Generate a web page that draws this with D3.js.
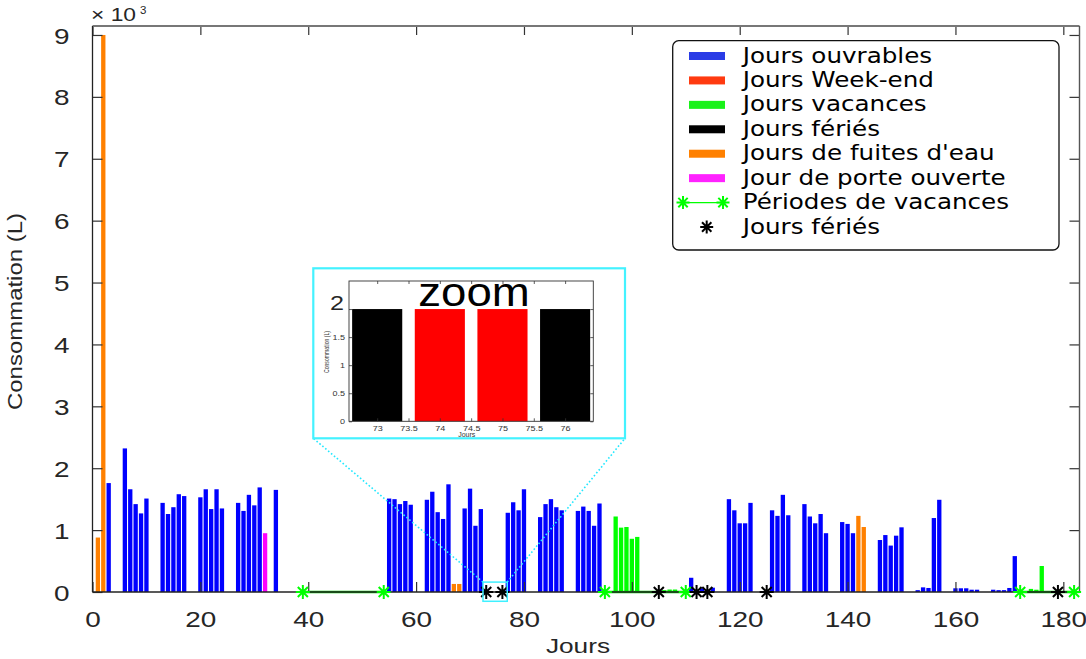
<!DOCTYPE html>
<html><head><meta charset="utf-8">
<script src="https://cdn.jsdelivr.net/npm/d3@7"></script>
<style>body{margin:0;background:#fff}svg{display:block}</style>
</head><body>
<svg id="chart" width="1086" height="659"></svg>
<script>
// ---------------- DATA ----------------
const xTicks = [0, 20, 40, 60, 80, 100, 120, 140, 160, 180];
const yTicks = [0, 1, 2, 3, 4, 5, 6, 7, 8, 9]; // x 10^3 L

const ouvrables = [
  [3,1760],[6,2320],[7,1660],[8,1420],[9,1270],[10,1510],
  [13,1440],[14,1260],[15,1370],[16,1580],[17,1550],
  [20,1530],[21,1660],[22,1340],[23,1660],[24,1350],
  [27,1440],[28,1310],[29,1570],[30,1400],[31,1690],[34,1650],
  [55,1510],[56,1500],[57,1420],[58,1470],[59,1410],
  [62,1490],[63,1620],[64,1290],[65,1180],[66,1740],
  [69,1350],[70,1670],[71,1070],[72,1340],
  [77,1280],[78,1450],[79,1320],[80,1660],
  [83,1210],[84,1420],[85,1500],[86,1370],[87,1320],
  [90,1310],[91,1380],[92,1310],[93,1070],[94,1430],
  [111,230],[113,60],[115,70],
  [118,1500],[119,1320],[120,1110],[121,1110],[122,1440],
  [126,1320],[127,1230],[128,1570],[129,1240],
  [132,1420],[133,1220],[134,1110],[135,1260],[136,950],
  [139,1130],[140,1100],[141,950],
  [146,840],[147,920],[148,750],[149,910],[150,1045],
  [153,30],[154,75],[155,65],[156,1195],[157,1490],
  [160,60],[161,60],[162,60],[163,37],[164,37],
  [167,37],[168,30],[169,30],[170,65],[171,580]
];
const weekEnd = [[74,2],[75,2]];
const vacances = [[97,1220],[98,1040],[99,1050],[100,860],[101,890],
  [106,30],[107,40],[108,40],[174,50],[175,37],[176,420]];
const feries = [[73,2],[76,2]];
const fuites = [[1,880],[2,9000],[67,130],[68,130],[142,1230],[143,1050]];
const porteOuverte = [[32,950]];

const periodesVacances = [[39,54],[95,110],[172,182]];
const joursFeries = [73,76,105,112,114,125,179];

const zoomDays = [73, 76];            // range shown in the inset
const insetXTicks = [73, 73.5, 74, 74.5, 75, 75.5, 76];
const insetYTicks = [0, 0.5, 1, 1.5, 2];

const legendLabels = ["Jours ouvrables","Jours Week-end","Jours vacances","Jours fériés",
  "Jours de fuites d'eau","Jour de porte ouverte","Périodes de vacances","Jours fériés"];

// ---------------- SETUP ----------------
const series = [
  {data: ouvrables, color: "#0000ff", legend: "#2a3ce6"},
  {data: weekEnd, color: "#ff0000", legend: "#ff3a10"},
  {data: vacances, color: "#00ff00", legend: "#19f219"},
  {data: feries, color: "#000000", legend: "#000000"},
  {data: fuites, color: "#ff8000", legend: "#ff8000"},
  {data: porteOuverte, color: "#ff00ff", legend: "#ff22ff"}
];
const TICKFONT = "'Liberation Sans', Arial, sans-serif";
const svg = d3.select("#chart");

const x = d3.scaleLinear().domain([0, 183]).range([92.5, 1079.5]);
const y = d3.scaleLinear().domain([0, 9145]).range([592, 26]);
const bw = 0.8;

function stretch(sel, k) {
  sel.each(function () {
    const L = this.getComputedTextLength();
    if (L > 0) d3.select(this).attr("textLength", L * k).attr("lengthAdjust", "spacingAndGlyphs");
  });
}
function star(r) {
  const d = r * 0.72;
  return `M${-r},0L${r},0M0,${-r}L0,${r}M${-d},${-d}L${d},${d}M${-d},${d}L${d},${-d}`;
}

// ---------------- BARS ----------------
const gBars = svg.append("g");
series.forEach(s => {
  gBars.selectAll(null).data(s.data).join("rect")
    .attr("x", d => x(d[0] - bw / 2))
    .attr("width", x(bw) - x(0))
    .attr("y", d => y(d[1]))
    .attr("height", d => y(0) - y(d[1]))
    .attr("fill", s.color);
});

// vacation period lines (under axis)
svg.append("g").selectAll("line").data(periodesVacances).join("line")
  .attr("x1", d => x(d[0])).attr("x2", d => x(d[1]))
  .attr("y1", y(0)).attr("y2", y(0))
  .attr("stroke", "#00cc00").attr("stroke-width", 2.6);

// ---------------- AXES ----------------
const gx = svg.append("g").attr("transform", `translate(0,${y(0)})`)
  .call(d3.axisBottom(x).tickValues(xTicks).tickSizeInner(-10).tickSizeOuter(0).tickPadding(19));
const gxt = svg.append("g").attr("transform", `translate(0,${y.range()[1]})`)
  .call(d3.axisTop(x).tickValues(xTicks).tickSizeInner(-9).tickSizeOuter(0).tickFormat(""));
const gy = svg.append("g").attr("transform", `translate(${x.range()[0]},0)`)
  .call(d3.axisLeft(y).tickValues(yTicks.map(t => t * 1000)).tickFormat(d => d / 1000)
    .tickSizeInner(-10).tickSizeOuter(0).tickPadding(23));
const gyr = svg.append("g").attr("transform", `translate(${x.range()[1]},0)`)
  .call(d3.axisRight(y).tickValues(yTicks.map(t => t * 1000)).tickSizeInner(-10).tickSizeOuter(0).tickFormat(""));
[gx, gxt, gy, gyr].forEach(g => {
  g.select(".domain").remove();
  g.selectAll(".tick line").attr("stroke", "#333").attr("stroke-width", 1.2);
});
gx.selectAll("text").attr("font-family", TICKFONT).attr("font-size", 22.5).attr("fill", "#262626").attr("dy", "0");
gx.selectAll("text").attr("y", 35);
gy.selectAll("text").attr("font-family", TICKFONT).attr("font-size", 22.5).attr("fill", "#262626").attr("dy", "0.36em");

// box
const [X0, X1] = x.range(), Y0 = y(0), Y1 = y.range()[1];
svg.append("line").attr("x1", X0).attr("x2", X1).attr("y1", Y1).attr("y2", Y1).attr("stroke", "#777").attr("stroke-width", 1.8);
svg.append("line").attr("x1", X1).attr("x2", X1).attr("y1", Y1).attr("y2", Y0).attr("stroke", "#555").attr("stroke-width", 1.4);
svg.append("line").attr("x1", X0).attr("x2", X1).attr("y1", Y0).attr("y2", Y0).attr("stroke", "#222").attr("stroke-width", 1.3);
svg.append("line").attr("x1", X0).attr("x2", X0).attr("y1", Y1).attr("y2", Y0).attr("stroke", "#222").attr("stroke-width", 1.3);

// markers
const vacEnds = periodesVacances.flat();
svg.append("g").selectAll("path").data(vacEnds).join("path")
  .attr("transform", d => `translate(${x(d)},${y(0)})`)
  .attr("d", star(7)).attr("stroke", "#00ff00").attr("stroke-width", 2).attr("fill", "none");
svg.append("g").selectAll("path").data(joursFeries).join("path")
  .attr("transform", d => `translate(${x(d)},${y(0)})`)
  .attr("d", star(7)).attr("stroke", "#000").attr("stroke-width", 2).attr("fill", "none");

// axis labels
const xl = svg.append("text").attr("x", 578).attr("y", 653).attr("text-anchor", "middle")
  .attr("font-family", TICKFONT).attr("font-size", 21).attr("fill", "#262626").text("Jours");
const yl = svg.append("text").attr("transform", "translate(22,311.5) rotate(-90)").attr("text-anchor", "middle")
  .attr("font-family", TICKFONT).attr("font-size", 20).attr("fill", "#262626").text("Consommation (L)");
yl.attr("textLength", 197).attr("lengthAdjust", "spacingAndGlyphs");
const mult = svg.append("text").attr("x", 91).attr("y", 21).attr("font-family", TICKFONT)
  .attr("font-size", 19).attr("fill", "#262626").text("× 10");
const sup = svg.append("text").attr("x", 140).attr("y", 13.5).attr("font-family", TICKFONT)
  .attr("font-size", 11.5).attr("fill", "#262626").text("3");

// ---------------- ZOOM BOX + CONNECTORS ----------------
const zx0 = x(zoomDays[0] - 0.6), zx1 = x(zoomDays[1] + 0.9), zy0 = y(160), zy1 = y(-150);
const inset = {x0: 313.3, y0: 268.3, x1: 625, y1: 438.3};
svg.append("rect").attr("x", zx0).attr("y", zy0).attr("width", zx1 - zx0).attr("height", zy1 - zy0)
  .attr("fill", "none").attr("stroke", "#3ff0ff").attr("stroke-width", 1.5);
svg.append("line").attr("x1", zx0).attr("y1", zy0).attr("x2", inset.x0).attr("y2", inset.y1)
  .attr("stroke", "#22e8ff").attr("stroke-width", 1.6).attr("stroke-dasharray", "1.6,2.2");
svg.append("line").attr("x1", zx1).attr("y1", zy0).attr("x2", inset.x1).attr("y2", inset.y1)
  .attr("stroke", "#22e8ff").attr("stroke-width", 1.6).attr("stroke-dasharray", "1.6,2.2");

// ---------------- INSET ----------------
const gi = svg.append("g");
gi.append("rect").attr("x", inset.x0).attr("y", inset.y0).attr("width", inset.x1 - inset.x0)
  .attr("height", inset.y1 - inset.y0).attr("fill", "#fff").attr("stroke", "#44f2ff").attr("stroke-width", 2.2);
const xi = d3.scaleLinear().domain([zoomDays[0] - 0.45, zoomDays[1] + 0.45]).range([349, 593.3]);
const yi = d3.scaleLinear().domain([0, 2.5]).range([421.3, 281]);
const zoomSeries = [{data: feries, color: "#000"}, {data: weekEnd, color: "#ff0000"}];
zoomSeries.forEach(s => {
  gi.selectAll(null).data(s.data.filter(d => d[0] >= zoomDays[0] && d[0] <= zoomDays[1])).join("rect")
    .attr("x", d => xi(d[0] - bw / 2)).attr("width", xi(bw) - xi(0))
    .attr("y", d => yi(d[1])).attr("height", d => yi(0) - yi(d[1])).attr("fill", s.color);
});
const fmt = d => String(d);
const [ix0, ix1] = xi.range(), iy0 = yi.range()[0], iy1 = yi.range()[1];
const gix = gi.append("g").attr("transform", `translate(0,${iy0})`)
  .call(d3.axisBottom(xi).tickValues(insetXTicks).tickFormat(fmt).tickSizeInner(-3).tickSizeOuter(0).tickPadding(4));
const gixt = gi.append("g").attr("transform", `translate(0,${iy1})`)
  .call(d3.axisTop(xi).tickValues(insetXTicks).tickSizeInner(-3).tickSizeOuter(0).tickFormat(""));
const giy = gi.append("g").attr("transform", `translate(${ix0},0)`)
  .call(d3.axisLeft(yi).tickValues(insetYTicks).tickFormat(fmt).tickSizeInner(-3).tickSizeOuter(0).tickPadding(4));
const giyr = gi.append("g").attr("transform", `translate(${ix1},0)`)
  .call(d3.axisRight(yi).tickValues(insetYTicks).tickSizeInner(-3).tickSizeOuter(0).tickFormat(""));
[gix, gixt, giy, giyr].forEach(g => { g.select(".domain").remove(); g.selectAll(".tick line").attr("stroke", "#333").attr("stroke-width", 0.8); });
gi.append("rect").attr("x", ix0).attr("y", iy1).attr("width", ix1 - ix0).attr("height", iy0 - iy1)
  .attr("fill", "none").attr("stroke", "#333").attr("stroke-width", 0.9);
gix.selectAll("text").attr("font-family", TICKFONT).attr("font-size", 7.5).attr("fill", "#333");
giy.selectAll("text").attr("font-family", TICKFONT).attr("font-size", 7.5).attr("fill", "#333");
// the top tick label is drawn large, sitting on the tick
giy.selectAll(".tick").filter(d => d === insetYTicks[insetYTicks.length - 1]).select("text")
  .attr("font-size", 21).attr("dy", "0").attr("x", -5).attr("fill", "#262626");
gi.append("text").attr("x", 466.7).attr("y", 436.5).attr("text-anchor", "middle")
  .attr("font-family", TICKFONT).attr("font-size", 7).attr("fill", "#333").text("Jours");
gi.append("text").attr("transform", "translate(329,352) rotate(-90)").attr("text-anchor", "middle")
  .attr("font-family", TICKFONT).attr("font-size", 6.5).attr("fill", "#333").text("Consommation (L)")
  .attr("textLength", 42).attr("lengthAdjust", "spacingAndGlyphs");
const zt = gi.append("text").attr("x", 474).attr("y", 306).attr("text-anchor", "middle")
  .attr("font-family", TICKFONT).attr("font-size", 40).attr("fill", "#000").text("zoom");

// ---------------- LEGEND ----------------
const lg = svg.append("g");
lg.append("rect").attr("x", 672.7).attr("y", 40.7).attr("width", 386.3).attr("height", 209.3)
  .attr("rx", 6).attr("fill", "#fff").attr("stroke", "#111").attr("stroke-width", 1.3);
const rowBase = i => 62.5 + i * 24.43;
legendLabels.forEach((lab, i) => {
  const b = rowBase(i), cy = b - 6.5;
  if (i < series.length) {
    lg.append("rect").attr("x", 689).attr("y", cy - 4).attr("width", 36).attr("height", 8).attr("fill", series[i].legend);
  } else if (i === series.length) {
    lg.append("line").attr("x1", 683).attr("x2", 723).attr("y1", cy).attr("y2", cy).attr("stroke", "#00ff00").attr("stroke-width", 1.2);
    [683, 723].forEach(px => lg.append("path").attr("transform", `translate(${px},${cy})`).attr("d", star(6.5))
      .attr("stroke", "#00ff00").attr("stroke-width", 2).attr("fill", "none"));
  } else {
    lg.append("path").attr("transform", `translate(706.7,${cy})`).attr("d", star(6.5))
      .attr("stroke", "#000").attr("stroke-width", 2).attr("fill", "none");
  }
  const t = lg.append("text").attr("x", 742.7).attr("y", b).attr("font-family", "'DejaVu Sans', sans-serif")
    .attr("font-size", 20.5).attr("fill", "#000").text(lab);
  stretch(t, 1.2);
});

// horizontal stretch of tick/label text to mimic reference aspect
stretch(gx.selectAll("text"), 1.24);
stretch(gy.selectAll("text"), 1.24);
stretch(xl, 1.25);
stretch(mult, 1.2);
stretch(zt, 1.14);
stretch(gix.selectAll("text"), 1.2);
stretch(giy.selectAll("text"), 1.2);
</script>
</body></html>
